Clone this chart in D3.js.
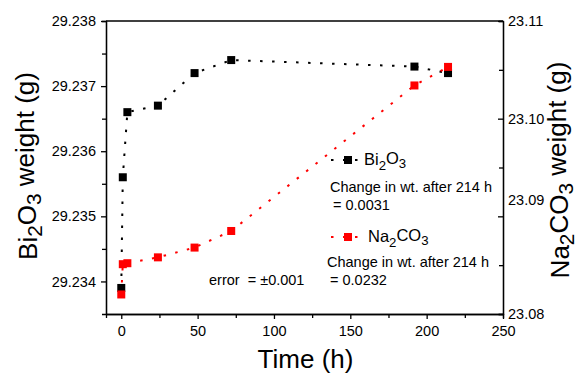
<!DOCTYPE html>
<html>
<head>
<meta charset="utf-8">
<script src="https://cdn.jsdelivr.net/npm/d3@7"></script>
<style>
	body { margin: 0; background: #fff; }
	text { font-family: Arial, "Liberation Sans", sans-serif; fill: #000; }
</style>
</head>
<body>
<div id="chart"></div>
<script>
// data
var time = [0, 1, 4, 24, 48, 72, 192, 214];
var bi2o3 = [29.2339, 29.2356, 29.2366, 29.2367, 29.2372, 29.2374, 29.2373, 29.2372];
var na2co3 = [23.0820, 23.0851, 23.0852, 23.0858, 23.0868, 23.0885, 23.1034, 23.1053];
var xTicks = [0, 50, 100, 150, 200, 250];
var xMinor = [25, 75, 125, 175, 225];
var leftTicks = [29.234, 29.235, 29.236, 29.237, 29.238];
var leftMinor = [29.2345, 29.2355, 29.2365, 29.2375];
var rightTicks = [23.08, 23.09, 23.10, 23.11];
var rightMinor = [23.085, 23.095, 23.105];

(function () {
	'use strict';
	var W = 580, H = 378;
	var left = 106, right = 503, top = 21, bottom = 314;

	var svg = d3.select("#chart").append("svg")
		.attr("width", W)
		.attr("height", H);

	//scales
	var x = d3.scaleLinear().domain([-10, 250]).range([left, right]);
	var yL = d3.scaleLinear().domain([29.2335, 29.238]).range([bottom, top]);
	var yR = d3.scaleLinear().domain([23.08, 23.11]).range([bottom, top]);

	var fmtL = d3.format(".3f");
	var fmtR = d3.format(".2f");

	//minor ticks first (no labels)
	svg.append("g")
		.attr("transform", "translate(0," + bottom + ")")
		.call(d3.axisBottom(x).tickValues(xMinor).tickSize(4).tickFormat(""));
	svg.append("g")
		.attr("transform", "translate(" + left + ",0)")
		.call(d3.axisLeft(yL).tickValues(leftMinor).tickSize(4).tickFormat(""));
	svg.append("g")
		.attr("transform", "translate(" + right + ",0)")
		.call(d3.axisRight(yR).tickValues(rightMinor).tickSize(-4).tickFormat(""));

	//major axes
	svg.append("g")
		.attr("transform", "translate(0," + bottom + ")")
		.call(d3.axisBottom(x).tickValues(xTicks).tickSize(5).tickSizeOuter(0).tickPadding(7));
	svg.append("g")
		.attr("transform", "translate(" + left + ",0)")
		.call(d3.axisLeft(yL).tickValues(leftTicks).tickFormat(fmtL).tickSize(5).tickSizeOuter(0).tickPadding(5));
	var gr = svg.append("g")
		.attr("transform", "translate(" + right + ",0)")
		.call(d3.axisRight(yR).tickValues(rightTicks).tickFormat(fmtR).tickSize(-5).tickSizeOuter(0).tickPadding(5));
	// 23.09 label sits a bit higher in the original
	gr.selectAll(".tick text").filter(function(d) { return d === 23.09; })
		.attr("dy", "-0.8em");

	svg.selectAll(".tick text").style("font-size", "14.5px").style("font-family", "Arial, 'Liberation Sans', sans-serif");
	svg.selectAll(".domain, .tick line").attr("stroke", "#000").attr("stroke-width", 1.3);

	//top border
	svg.append("line")
		.attr("x1", left).attr("x2", right)
		.attr("y1", top).attr("y2", top)
		.attr("stroke", "#000").attr("stroke-width", 1.3);

	//series
	var series = [
		{ vals: bi2o3, y: yL, color: "#000" },
		{ vals: na2co3, y: yR, color: "#ff0000" }
	];
	series.forEach(function(s) {
		var line = d3.line()
			.x(function(d, i) { return x(time[i]); })
			.y(function(d) { return s.y(d); });
		svg.append("path")
			.datum(s.vals)
			.attr("d", line)
			.attr("fill", "none")
			.attr("stroke", s.color)
			.attr("stroke-width", 2)
			.attr("stroke-dasharray", "2.5,9.5");
		svg.selectAll(null)
			.data(s.vals)
			.enter()
			.append("rect")
			.attr("x", function(d, i) { return x(time[i]) - 4; })
			.attr("y", function(d) { return s.y(d) - 4; })
			.attr("width", 8)
			.attr("height", 8)
			.attr("fill", s.color);
	});

	//chemical formulas with subscripts
	function formula(sel, parts, shift) {
		var down = false;
		parts.forEach(function(p) {
			var ts = sel.append("tspan").text(p.t);
			if (p.sub) {
				ts.attr("dy", shift + "em").style("font-size", "0.8em");
				down = true;
			} else if (down) {
				ts.attr("dy", (-shift) + "em");
				down = false;
			}
		});
	}

	//axis titles
	svg.append("text")
		.attr("x", (left + right) / 2 + 1)
		.attr("y", 368)
		.attr("text-anchor", "middle")
		.style("font-size", "26px")
		.text("Time (h)");

	var tl = svg.append("text")
		.attr("transform", "translate(37,166) rotate(-90)")
		.attr("text-anchor", "middle")
		.style("font-size", "26px");
	formula(tl, [{t: "Bi"}, {t: "2", sub: true}, {t: "O"}, {t: "3", sub: true}, {t: " weight (g)"}], 0.25);

	var tr = svg.append("text")
		.attr("transform", "translate(569,170) rotate(-90)")
		.attr("text-anchor", "middle")
		.style("font-size", "26px");
	formula(tr, [{t: "Na"}, {t: "2", sub: true}, {t: "CO"}, {t: "3", sub: true}, {t: " weight (g)"}], 0.25);

	//legend
	var legend = [
		{ color: "#000", y: 160, name: [{t: "Bi"}, {t: "2", sub: true}, {t: "O"}, {t: "3", sub: true}], tx: 364, note: "= 0.0031", cy: 192, cx: 330 },
		{ color: "#ff0000", y: 237, name: [{t: "Na"}, {t: "2", sub: true}, {t: "CO"}, {t: "3", sub: true}], tx: 368, note: "= 0.0232", cy: 267, cx: 327 }
	];
	legend.forEach(function(l) {
		svg.append("line")
			.attr("x1", 331).attr("x2", 360)
			.attr("y1", l.y).attr("y2", l.y)
			.attr("stroke", l.color)
			.attr("stroke-width", 2)
			.attr("stroke-dasharray", "2.5,9.5");
		svg.append("rect")
			.attr("x", 344).attr("y", l.y - 4)
			.attr("width", 8).attr("height", 8)
			.attr("fill", l.color);
		var t = svg.append("text")
			.attr("x", l.tx).attr("y", l.y + 5)
			.style("font-size", "16.5px");
		formula(t, l.name, 0.35);
		svg.append("text")
			.attr("x", l.cx).attr("y", l.cy)
			.style("font-size", "14.5px")
			.text("Change in wt. after 214 h");
		svg.append("text")
			.attr("x", l.cx + 3).attr("y", l.cy + 18)
			.style("font-size", "14.5px")
			.text(l.note);
	});

	svg.append("text")
		.attr("x", 209).attr("y", 285)
		.style("font-size", "14.5px")
		.style("white-space", "pre")
		.text("error  = \u00b10.001");
}());
</script>
</body>
</html>
